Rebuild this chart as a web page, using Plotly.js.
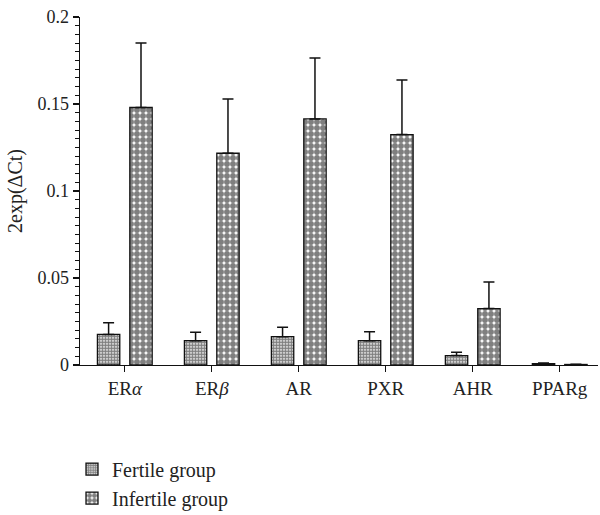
<!DOCTYPE html>
<html>
<head>
<meta charset="utf-8">
<script src="https://cdn.plot.ly/plotly-3.0.1.min.js"></script>
<style>html,body{margin:0;padding:0;background:#fff;}#chart{width:600px;height:515px;}</style>
</head>
<body>
<div id="chart"></div>
<script>
var categories = ["ER<i>α</i>", "ER<i>β</i>", "AR", "PXR", "AHR", "PPARg"];
var fertileValues = [0.0176, 0.0140, 0.0163, 0.0140, 0.0054, 0.0008];
var fertileErrors = [0.0067, 0.0048, 0.0054, 0.0051, 0.0019, 0.0003];
var infertileValues = [0.1480, 0.1217, 0.1414, 0.1324, 0.0324, 0.0003];
var infertileErrors = [0.0370, 0.0312, 0.0350, 0.0314, 0.0153, 0.0001];
var seriesNames = ["Fertile group", "Infertile group"];
var yTitle = "2exp(ΔCt)";
var yTickVals = [0, 0.05, 0.1, 0.15, 0.2];
var yTickText = ["0", "0.05", "0.1", "0.15", "0.2"];

var fontFam = "Liberation Serif, Times New Roman, serif";
function errs(arr){ return {type:'data', symmetric:false, array:arr, arrayminus:arr.map(function(){return 0;}), color:'#111', thickness:1.5, width:5.5}; }

var traces = [
  {type:'bar', name:seriesNames[0], x:categories, y:fertileValues, error_y:errs(fertileErrors),
   marker:{color:'#fff', line:{color:'#111', width:1.3}, pattern:{shape:'.', fgcolor:'#000', bgcolor:'#fff', size:3, solidity:0.72, fillmode:'overlay'}}},
  {type:'bar', name:seriesNames[1], x:categories, y:infertileValues, error_y:errs(infertileErrors),
   marker:{color:'#fff', line:{color:'#111', width:1.3}, pattern:{shape:'.', fgcolor:'#000', bgcolor:'#fff', size:6, solidity:0.75, fillmode:'overlay'}}}
];

var layout = {
  width:600, height:515,
  margin:{l:80, r:2, t:17, b:150, autoexpand:false},
  paper_bgcolor:'#fff', plot_bgcolor:'#fff',
  font:{family:fontFam, size:18, color:'#222'},
  barmode:'group', bargap:0.255, bargroupgap:0.31,
  showlegend:true,
  legend:{xref:'container', yref:'container', x:0.12, xanchor:'left', y:0.127, yanchor:'top', orientation:'v', font:{family:fontFam, size:20, color:'#222'}, itemwidth:30, tracegroupgap:0},
  xaxis:{type:'category', range:[-0.515, 5.44], automargin:false, showline:true, linecolor:'#111', linewidth:1.3, ticks:'outside', ticklen:6, tickcolor:'#111', tickwidth:1.3, showgrid:false, zeroline:false, tickfont:{family:fontFam, size:19, color:'#222'}},
  yaxis:{range:[0, 0.2], automargin:false, showline:true, linecolor:'#111', linewidth:1.3, ticks:'outside', ticklen:6, tickcolor:'#111', tickwidth:1.3, tickvals:yTickVals, ticktext:yTickText, showgrid:false, zeroline:false,
    minor:{dtick:0.005, tick0:0, ticks:'outside', ticklen:4, tickcolor:'#111', tickwidth:1, showgrid:false},
    tickfont:{family:fontFam, size:18, color:'#222'}},
  annotations:[{text:yTitle, xref:'paper', yref:'paper', x:0, y:0.5, xanchor:'center', yanchor:'middle', xshift:-65, textangle:-90, showarrow:false, font:{family:fontFam, size:20, color:'#222'}}]
};

Plotly.newPlot('chart', traces, layout, {displayModeBar:false, staticPlot:true});
</script>
</body>
</html>
